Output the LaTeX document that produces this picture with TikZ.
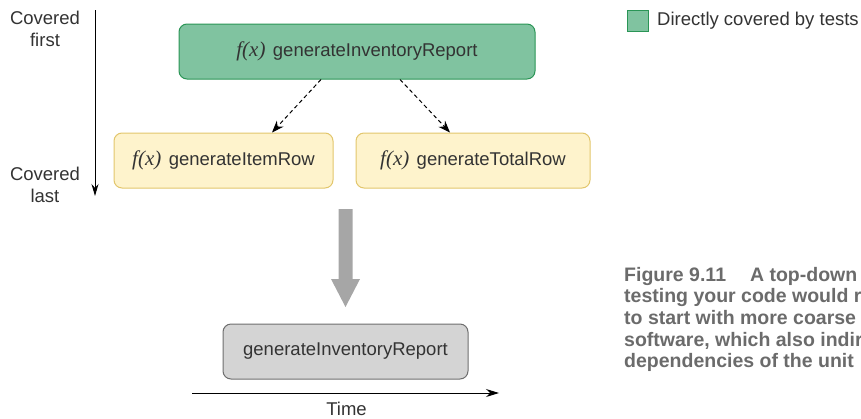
\documentclass[tikz,border=0pt]{standalone}
\usepackage{fontspec}
\setmainfont{Liberation Sans}
\newfontfamily\fxfont{Liberation Serif}
\usetikzlibrary{arrows.meta}
\definecolor{testgreen}{HTML}{80C3A0}
\definecolor{testgreenline}{HTML}{2A9556}
\definecolor{rowyellow}{HTML}{FEF3CC}
\definecolor{rowyellowline}{HTML}{E2C66C}
\definecolor{resultgray}{HTML}{D4D4D4}
\definecolor{resultline}{HTML}{6E6E6E}
\definecolor{bigarrowgray}{HTML}{A6A6A6}
\definecolor{textgray}{HTML}{333333}
\definecolor{captiongray}{HTML}{6B6B6B}
\newcommand{\fx}{{\fxfont\fontsize{21}{22}\selectfont\itshape f(x)}\hspace{0.4em}}
\tikzset{
  label/.style={font=\fontsize{18.5}{22}\selectfont, text=textgray, align=center, inner sep=0pt},
  fnbox/.style={rounded corners=8pt, line width=1pt, minimum height=55pt, font=\fontsize{18.5}{22}\selectfont, text=textgray},
  coveredbox/.style={fnbox, fill=testgreen, draw=testgreenline},
  rowbox/.style={fnbox, fill=rowyellow, draw=rowyellowline},
  resultbox/.style={fnbox, fill=resultgray, draw=resultline},
  dep/.style={line width=1pt, dash pattern=on 4pt off 3pt, -{Stealth[length=12pt,width=9pt]}},
  axis/.style={line width=1pt, -{Stealth[length=12pt,width=7pt]}},
}
\begin{document}
\begin{tikzpicture}[x=1pt,y=-1pt]
        \useasboundingbox (0,0) rectangle (861,418);

        \coordinate (first) at (95,10);
        \coordinate (last) at (95,196);
        \draw[axis] (first) -- (last);
        \node[label] (coveredfirst) at (45,29) {Covered\\first};
        \node[label] (coveredlast) at (45,185) {Covered\\last};

        \node[coveredbox, minimum width=356pt] (report) at (357,51.5) {\fx generateInventoryReport};
        \node[rowbox, minimum width=219pt] (itemrow) at (223.5,160.5) {\fx generateItemRow};
        \node[rowbox, minimum width=234pt] (totalrow) at (473,160.5) {\fx generateTotalRow};

        \draw[dep] ([xshift=-36pt]report.south) -- ([xshift=48.5pt]itemrow.north);
        \draw[dep] ([xshift=43pt]report.south) -- ([xshift=-23pt]totalrow.north);

        \node[resultbox, minimum width=245pt] (result) at (345.5,351.5) {generateInventoryReport};

        \fill[bigarrowgray] (338.5,209) -- (352.5,209) -- (352.5,279) -- (360,279)
        -- (345.5,307) -- (331,279) -- (338.5,279) -- cycle;

        \coordinate (t0) at (192,393);
        \coordinate (t1) at (499,393);
        \draw[axis, -{Stealth[length=13pt,width=8pt]}] (t0) -- (t1);
        \node[font=\fontsize{18.5}{22}\selectfont, text=textgray, inner sep=0pt] (time) at (346.5,409) {Time};

        \node[draw=testgreenline, fill=testgreen, line width=1pt, minimum size=21pt, inner sep=0pt] (legendbox) at (637.5,21) {};
        \node[label, anchor=west] (legendtext) at (657,21) {Directly covered by tests};

        \node[anchor=north west, align=left, inner sep=0pt, text=captiongray,
        font=\fontsize{19.5}{21.6}\selectfont\bfseries] (caption) at (624,267)
        {Figure 9.11\hskip 24pt A top-down\\
        testing your code would r\\
        to start with more coarse\\
        software, which also indir\\
        dependencies of the unit};
\end{tikzpicture}
\end{document}
